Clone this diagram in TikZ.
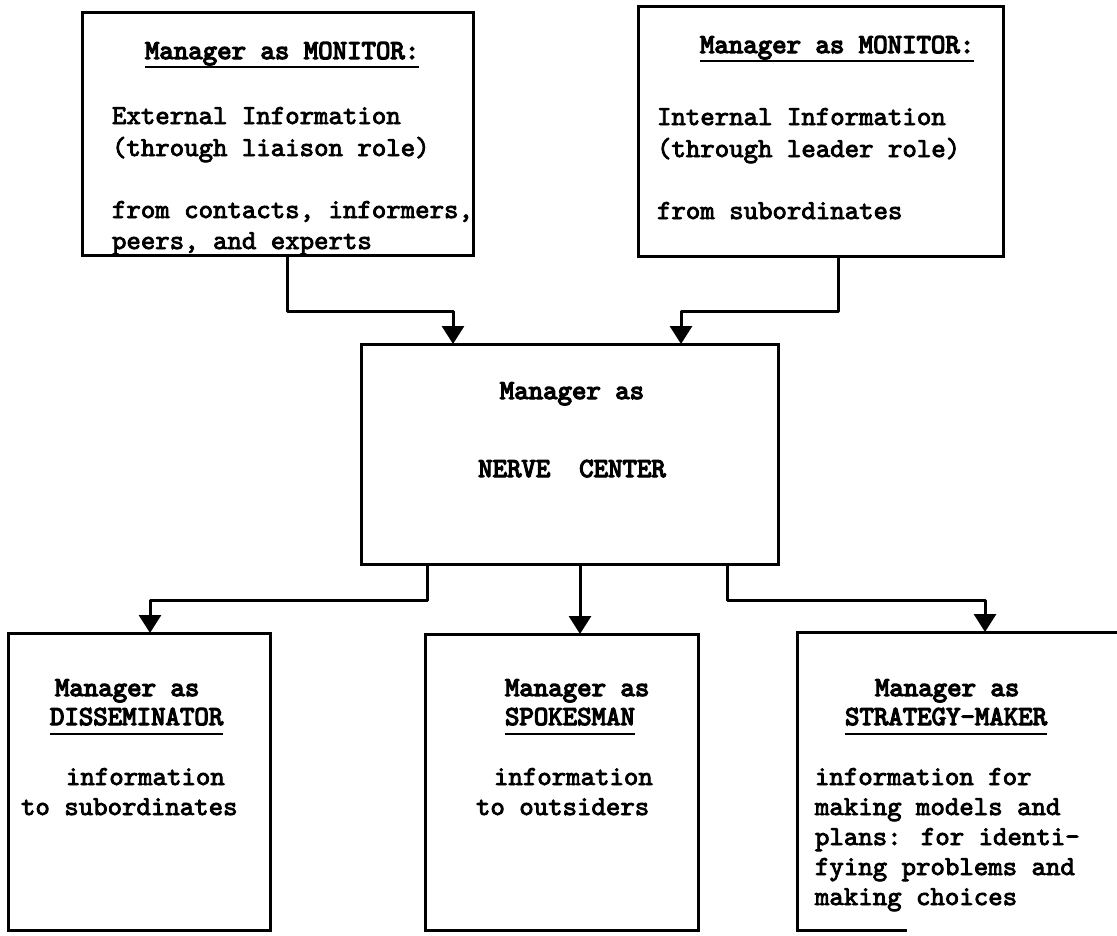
\documentclass[tikz,border=0pt]{standalone}
\usepackage{fontspec}
\newfontfamily\tw{lmmono10-regular.otf}[FakeBold=3]
\newfontfamily\twb{lmmono10-regular.otf}[FakeBold=4.5]
\usetikzlibrary{arrows.meta}
\tikzset{
  box/.style={draw, line width=3pt, inner sep=0pt, outer sep=0pt, rectangle},
  txt/.style={inner sep=0pt, outer sep=0pt, anchor=base west, font=\tw\fontsize{27.5}{30}\selectfont},
  hd/.style={txt, font=\twb\fontsize{27.5}{30}\selectfont},
  hdc/.style={hd, anchor=base},
  ul/.style={line width=2.6pt},
  arr/.style={line width=3pt, line join=round, -{Triangle[width=22pt,length=18pt]}}
}
\begin{document}
\begin{tikzpicture}[x=1pt, y=-1pt]
\fill[white] (0,0) rectangle (1117,935);
\useasboundingbox (0,0) rectangle (1117,935);

% boxes
\node[box, minimum width=391pt, minimum height=243pt] (A) at (277.5,133.5) {};
\node[box, minimum width=365pt, minimum height=250pt] (B) at (820.5,131) {};
\node[box, minimum width=417pt, minimum height=220pt] (C) at (569.5,454) {};
\node[box, minimum width=262pt, minimum height=297pt] (D) at (139,781.5) {};
\node[box, minimum width=273pt, minimum height=296pt] (E) at (561.5,782) {};
\node[inner sep=0pt, outer sep=0pt, minimum width=333pt, minimum height=298pt] (F) at (963.5,781) {};
\draw[line width=3pt] (F.north east) -- (F.north west) -- (F.south west) -- ([xshift=110pt]F.south west);

% box A text
\node[hd] (a1) at (145,59) {Manager as MONITOR:};
\draw[ul] ([yshift=-8pt]a1.base west) -- ([yshift=-8pt]a1.base east);
\node[txt] (a2) at (112,124) {External Information};
\node[txt] (a3) at (112,156) {(through liaison role)};
\node[txt] (a4) at (112,218) {from contacts, informers,};
\node[txt] (a5) at (112,249) {peers, and experts};

% box B text
\node[hd] (b1) at (700,53) {Manager as MONITOR:};
\draw[ul] ([yshift=-8pt]b1.base west) -- ([yshift=-8pt]b1.base east);
\node[txt] (b2) at (657,125) {Internal Information};
\node[txt] (b3) at (657,157) {(through leader role)};
\node[txt] (b4) at (657,219) {from subordinates};

% box C text
\node[hdc] (c1) at (572,399) {Manager as};
\node[hdc] (c2) at (572,477) {NERVE\ \ CENTER};

% box D text
\node[hd] (d1) at (55,696) {Manager as};
\node[hd] (d2) at (50,725) {DISSEMINATOR};
\draw[ul] ([yshift=-9pt]d2.base west) -- ([yshift=-9pt]d2.base east);
\node[txt] (d3) at (66,785) {information};
\node[txt] (d4) at (21,815) {to subordinates};

% box E text
\node[hd] (e1) at (505,696) {Manager as};
\node[hd] (e2) at (505,725) {SPOKESMAN};
\draw[ul] ([yshift=-9pt]e2.base west) -- ([yshift=-9pt]e2.base east);
\node[txt] (e3) at (494,785) {information};
\node[txt] (e4) at (476,815) {to outsiders};

% box F text
\node[hd] (f1) at (875,696) {Manager as};
\node[hd] (f2) at (845,725) {STRATEGY-MAKER};
\draw[ul] ([yshift=-9pt]f2.base west) -- ([yshift=-9pt]f2.base east);
\node[txt] (f3) at (815,785) {information for};
\node[txt] (f4) at (815,815) {making models and};
\node[txt] (f5) at (815,845) {plans: for identi-};
\node[txt] (f6) at (815,875) {fying problems and};
\node[txt] (f7) at (815,905) {making choices};

% connector points
\coordinate (ka1) at (287,311);
\coordinate (ka2) at (453,311);
\coordinate (kb1) at (838,311);
\coordinate (kb2) at (681,311);
\coordinate (kd1) at (427,600);
\coordinate (kd2) at (150,600);
\coordinate (ke) at (580,600);
\coordinate (kf1) at (727,600);
\coordinate (kf2) at (985,600);

% connectors
\draw[arr] (A.south -| ka1) -- (ka1) -- (ka2) -- (C.north -| ka2);
\draw[arr] (B.south -| kb1) -- (kb1) -- (kb2) -- (C.north -| kb2);
\draw[arr] (C.south -| kd1) -- (kd1) -- (kd2) -- (D.north -| kd2);
\draw[arr] (C.south -| ke) -- (E.north -| ke);
\draw[arr] (C.south -| kf1) -- (kf1) -- (kf2) -- (F.north -| kf2);
\end{tikzpicture}
\end{document}
